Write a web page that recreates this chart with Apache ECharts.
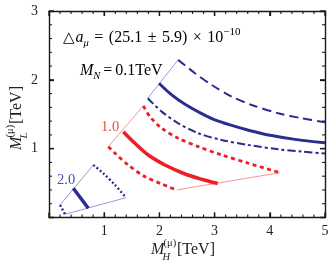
<!DOCTYPE html>
<html>
<head>
<meta charset="utf-8">
<script src="https://cdn.jsdelivr.net/npm/echarts@6/dist/echarts.min.js"></script>
<style>html,body{margin:0;padding:0;background:#fff}#c{width:332px;height:263px}</style>
</head>
<body>
<div id="c"></div>
<script>
// ---- data ----
const xTickLabels = ['1', '2', '3', '4', '5'];
const yTickLabels = ['1', '2', '3'];
const xMajorTicks = [0, 1, 2, 3, 4, 5];
const yMajorTicks = [0, 1, 2, 3];
const minorStep = 0.2;
// M_N = 0.1 TeV
const mn01Upper = [[2.34,2.29],[2.645,2.096],[2.947,1.926],[3.31,1.756],[3.672,1.635],[4.154,1.515],[4.578,1.442],[5.0,1.385]];
const mn01Central = [[1.993,1.951],[2.223,1.781],[2.464,1.645],[2.74,1.52],[2.97,1.43],[3.28,1.345],[3.63,1.265],[4.034,1.19],[4.457,1.135],[5.0,1.085]];
const mn01Lower = [[1.788,1.733],[2.042,1.538],[2.342,1.369],[2.705,1.224],[3.129,1.126],[3.611,1.054],[4.154,0.991],[4.578,0.957],[5.0,0.93]];
// M_N = 1.0 TeV
const mn10Upper = [[1.708,1.621],[1.83,1.465],[2.042,1.296],[2.342,1.151],[2.705,1.029],[3.129,0.908],[3.611,0.788],[4.185,0.651]];
const mn10Central = [[1.346,1.247],[1.558,1.078],[1.799,0.908],[2.101,0.763],[2.464,0.632],[2.766,0.555],[3.056,0.493]];
const mn10Lower = [[1.074,1.029],[1.196,0.933],[1.437,0.76],[1.739,0.593],[2.042,0.487],[2.313,0.40]];
// M_N = 2.0 TeV
const mn20Upper = [[0.803,0.763],[0.984,0.642],[1.196,0.472],[1.395,0.288]];
const mn20Central = [[0.44,0.424],[0.712,0.134]];
const mn20Lower = [[0.20,0.182],[0.29,0.047]];

const X_MAX = 5, Y_MAX = 3;
const BLUE = '#2b2d8e', RED = '#ec1f26';
const BLUE_THIN = '#7d7fcc', RED_THIN = '#f47a7a';
const SERIF = '"Liberation Serif", "DejaVu Serif", serif';
const AXIS_COLOR = '#1a1a1a';

function first(a){ return a[0]; }
function last(a){ return a[a.length-1]; }

function line(name, data, color, width, dash, smooth){
  return {
    name: name, type: 'line', data: data, showSymbol: false, symbol: 'none',
    smooth: smooth === undefined ? 0.3 : smooth, silent: true, animation: false,
    xAxisIndex: 0, yAxisIndex: 0,
    lineStyle: { color: color, width: width, type: dash || 'solid', cap: 'butt' }
  };
}

// tick marks (inside, on all four sides) drawn through the axes' own scale
const tickData = [];
xMajorTicks.forEach(function(v){ tickData.push([v, 0, 5]); });
yMajorTicks.forEach(function(v){ tickData.push([v, 1, 5]); });
for (let k = 1; k < X_MAX / minorStep; k++) { if (k % 5 !== 0) tickData.push([k * minorStep, 0, 3]); }
for (let k = 1; k < Y_MAX / minorStep; k++) { if (k % 5 !== 0) tickData.push([k * minorStep, 1, 3]); }

function tickLine(x1, y1, x2, y2, w){
  return { type: 'line', shape: { x1: x1, y1: y1, x2: x2, y2: y2 }, style: { stroke: AXIS_COLOR, lineWidth: w } };
}

const tickSeries = {
  name: 'ticks', type: 'custom', data: tickData, silent: true, clip: false, z: 6,
  xAxisIndex: 0, yAxisIndex: 0, animation: false,
  renderItem: function(params, api){
    const v = api.value(0), dir = api.value(1), len = api.value(2);
    const w = len > 4 ? 1.3 : 1.1;
    if (dir === 0) {
      const b = api.coord([v, 0]), t = api.coord([v, Y_MAX]);
      return { type: 'group', children: [ tickLine(b[0], b[1], b[0], b[1] - len, w), tickLine(t[0], t[1], t[0], t[1] + len, w) ] };
    }
    const l = api.coord([0, v]), r = api.coord([X_MAX, v]);
    return { type: 'group', children: [ tickLine(l[0], l[1], l[0] + len, l[1], w), tickLine(r[0], r[1], r[0] - len, r[1], w) ] };
  }
};

const series = [
  line('mn01 connector', [first(mn01Upper), first(mn01Lower)], BLUE_THIN, 0.8, 'solid', false),
  line('mn01 upper', mn01Upper, BLUE, 2, [9,5]),
  line('mn01 central', mn01Central, BLUE, 3),
  line('mn01 lower', mn01Lower, BLUE, 2, [8,3,3,3]),
  line('mn10 connector L', [first(mn10Upper), first(mn10Lower)], RED_THIN, 0.8, 'solid', false),
  line('mn10 connector R', [last(mn10Upper), last(mn10Lower)], RED_THIN, 0.8, 'solid', false),
  line('mn10 upper', mn10Upper, RED, 2.8, [4,3.5]),
  line('mn10 central', mn10Central, RED, 3.5),
  line('mn10 lower', mn10Lower, RED, 2.8, [4,3.5]),
  line('mn20 connector L', [first(mn20Upper), first(mn20Lower)], BLUE_THIN, 0.8, 'solid', false),
  line('mn20 connector R', [last(mn20Upper), last(mn20Lower)], BLUE_THIN, 0.8, 'solid', false),
  line('mn20 upper', mn20Upper, BLUE, 2.4, [2,2.2]),
  line('mn20 central', mn20Central, BLUE, 3.5, 'solid', false),
  line('mn20 lower', mn20Lower, BLUE, 2.4, [2,2.2], false),
  tickSeries
];

function axisDef(max, position, showLabel, labels, margin){
  return {
    type: 'value', min: 0, max: max, interval: 1, position: position,
    axisLine: { show: true, onZero: false, lineStyle: { color: AXIS_COLOR, width: 1.4 } },
    axisTick: { show: true, inside: true, length: 5, lineStyle: { color: AXIS_COLOR, width: 1.3 } },
    splitLine: { show: false },
    axisLabel: {
      show: showLabel, fontFamily: SERIF, fontSize: 14, color: '#222', margin: margin || 8,
      formatter: function(v){ const s = String(v); return labels.indexOf(s) >= 0 ? s : ''; }
    }
  };
}

const xAxes = [ axisDef(X_MAX, 'bottom', true, xTickLabels, 7), axisDef(X_MAX, 'top', false, xTickLabels) ];
const yAxes = [ axisDef(Y_MAX, 'left', true, yTickLabels, 11), axisDef(Y_MAX, 'right', false, yTickLabels) ];

function richSty(color, size, opPad){
  const s = size || 15;
  const p = opPad || 4;
  return {
    n: { fontFamily: SERIF, fontSize: s, color: color, lineHeight: 22 },
    i: { fontFamily: SERIF, fontSize: s, fontStyle: 'italic', color: color, lineHeight: 22 },
    op: { fontFamily: SERIF, fontSize: s, color: color, lineHeight: 22, padding: [0, p, 0, p] },
    tri: { fontFamily: '"DejaVu Sans", sans-serif', fontSize: s - 1, color: color, lineHeight: 22, padding: [0, 1, 0, 0] },
    sub: { fontFamily: SERIF, fontSize: 10.5, fontStyle: 'italic', color: color, verticalAlign: 'bottom', lineHeight: 12 },
    sup: { fontFamily: SERIF, fontSize: 11, color: color, verticalAlign: 'top', lineHeight: 12 }
  };
}

function txt(x, y, text, color, size, italic){
  return { type: 'text', x: x, y: y, silent: true,
    style: { text: text, fill: color, font: (italic ? 'italic ' : '') + size + 'px ' + SERIF, verticalAlign: 'middle', align: 'left' } };
}

// axis title: M_{sub}^{(mu)} [TeV]
function axisTitle(x, y, rot, subLetter){
  return {
    type: 'group', x: x, y: y, rotation: rot, silent: true,
    children: [
      txt(0, 0, 'M', '#222', 16, true),
      txt(12.5, -6.5, '(μ)', '#222', 10.5, false),
      txt(11.5, 7, subLetter, '#222', 10.5, true),
      txt(26, 0, '[TeV]', '#222', 16, false)
    ]
  };
}

const graphics = [
  { type: 'text', x: 63, y: 38, silent: true,
    style: { text: '{tri|△}{i|a}{sub|μ}{op|=}{n|(25.1}{op|±}{n|5.9)}{op|×}{n|10}{sup|−10}', rich: richSty('#333', 16, 5.5), verticalAlign: 'middle', align: 'left' } },
  { type: 'text', x: 80, y: 71, silent: true,
    style: { text: '{i|M}{sub|N}{op|=}{n|0.1TeV}', rich: richSty('#3a3ca2', 16, 3), verticalAlign: 'middle', align: 'left' } },
  txt(101, 127, '1.0', '#ee4a4a', 14.5, false),
  txt(57, 180, '2.0', '#4a4caa', 14.5, false),
  axisTitle(151, 250, 0, 'H'),
  axisTitle(17, 150, Math.PI / 2, 'L')
];

const chart = echarts.init(document.getElementById('c'));
chart.setOption({
  animation: false,
  grid: { left: 49, right: 7, top: 11, bottom: 45.5 },
  xAxis: xAxes,
  yAxis: yAxes,
  series: series,
  graphic: graphics
});
</script>
</body>
</html>
